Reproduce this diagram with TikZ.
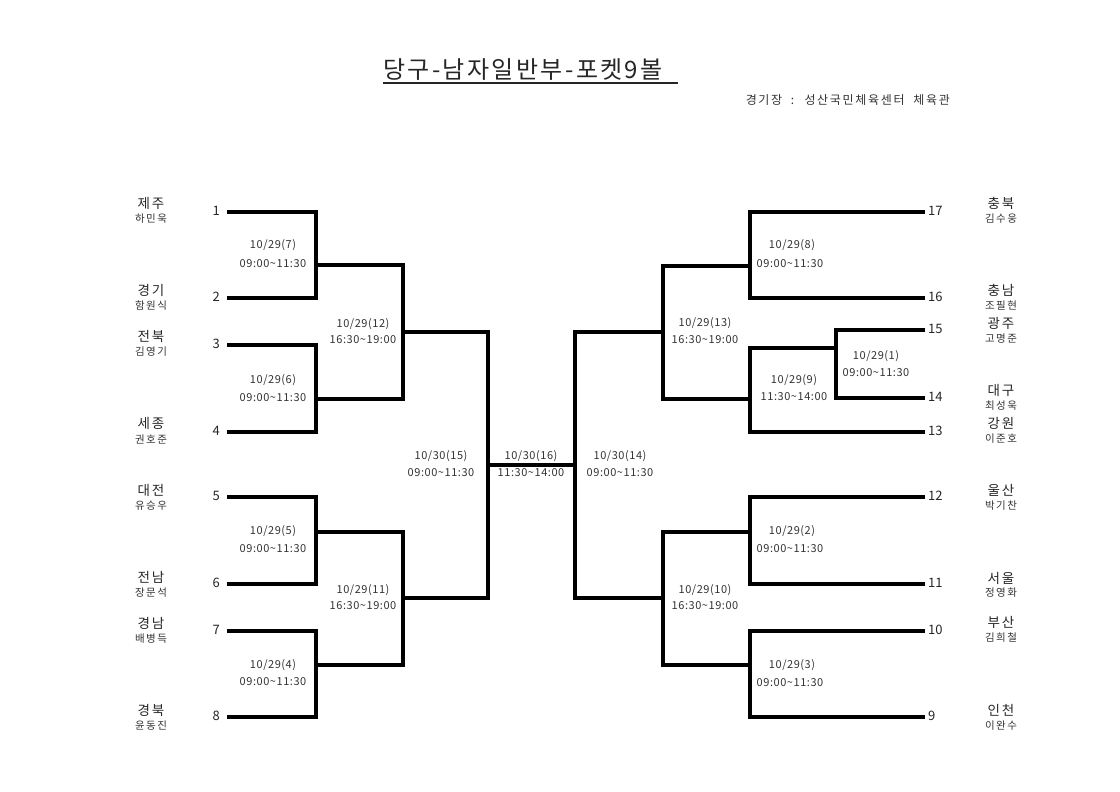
\documentclass[tikz,border=0pt]{standalone}
\usepackage{fontspec}
\setmainfont{Noto Sans CJK KR}
\newfontfamily\spacedfont[LetterSpace=10]{Noto Sans CJK KR}
\newfontfamily\labelfont[LetterSpace=5]{Noto Sans CJK KR}
\newfontfamily\wideskfont[LetterSpace=14]{Noto Sans CJK KR}
\begin{document}
\begin{tikzpicture}[x=1pt,y=-1pt,
  br/.style={line width=4pt, line join=miter, line cap=butt, black},
  num/.style={font=\fontsize{13}{14}\selectfont, text=black!85, inner sep=0pt},
  reg/.style={font=\wideskfont\fontsize{13.5}{14}\selectfont, text=black!85, inner sep=0pt},
  pname/.style={font=\wideskfont\fontsize{10.5}{11}\selectfont, text=black!80, inner sep=0pt},
  mlab/.style={font=\labelfont\fontsize{11}{12}\selectfont, text=black!80, inner sep=0pt}]
\useasboundingbox (0,0) rectangle (1120,792);
\fill[white] (0,0) rectangle (1120,792);
% title
\node[font=\spacedfont\fontsize{24}{25}\selectfont, text=black!85, inner sep=0pt, anchor=west] (title) at (383,70) {당구-남자일반부-포켓9볼};
\draw[line width=1.8pt, black!85] (383,83) -- (678,83);
\node[font=\wideskfont\fontsize{12}{13}\selectfont, text=black!80, inner sep=0pt, anchor=east] (venue) at (950,100) {경기장 \ : \ 성산국민체육센터 \ 체육관};
% left coordinates
\coordinate (s1) at (227,212); \coordinate (s2) at (227,298);
\coordinate (s3) at (227,345); \coordinate (s4) at (227,432);
\coordinate (s5) at (227,497); \coordinate (s6) at (227,584);
\coordinate (s7) at (227,631); \coordinate (s8) at (227,717);
\coordinate (j7) at (316,265); \coordinate (j6) at (316,399);
\coordinate (j5) at (316,532); \coordinate (j4) at (316,665);
\coordinate (j12) at (403,332); \coordinate (j11) at (403,598);
\coordinate (j15) at (488,465); \coordinate (j14) at (575,465);
% right coordinates
\coordinate (e17) at (925,212); \coordinate (e16) at (925,298);
\coordinate (e15) at (925,330); \coordinate (e14) at (925,398);
\coordinate (e13) at (925,432); \coordinate (e12) at (925,497);
\coordinate (e11) at (925,584); \coordinate (e10) at (925,631);
\coordinate (e9) at (925,717);
\coordinate (r8) at (750,266); \coordinate (r1) at (836,348);
\coordinate (r9) at (750,399); \coordinate (r13) at (663,332);
\coordinate (r2) at (750,532); \coordinate (r3) at (750,665);
\coordinate (r10) at (663,598);
% left bracket
\draw[br] (s1) -| (j7) |- (s2);
\draw[br] (s3) -| (j6) |- (s4);
\draw[br] (s5) -| (j5) |- (s6);
\draw[br] (s7) -| (j4) |- (s8);
\draw[br] (j7) -| (j12) |- (j6);
\draw[br] (j5) -| (j11) |- (j4);
\draw[br] (j12) -| (j15) |- (j11);
\draw[br] (j15) -- (j14);
% right bracket
\draw[br] (e17) -| (r8) |- (e16);
\draw[br] (e15) -| (r1) |- (e14);
\draw[br] (r1) -| (r9) |- (e13);
\draw[br] (r8) -| (r13) |- (r9);
\draw[br] (e12) -| (r2) |- (e11);
\draw[br] (e10) -| (r3) |- (e9);
\draw[br] (r2) -| (r10) |- (r3);
\draw[br] (r13) -| (j14) |- (r10);
% left numbers
\node[num, anchor=east] (n1) at (220,211) {1};
\node[num, anchor=east] (n2) at (220,297) {2};
\node[num, anchor=east] (n3) at (220,344) {3};
\node[num, anchor=east] (n4) at (220,431) {4};
\node[num, anchor=east] (n5) at (220,496) {5};
\node[num, anchor=east] (n6) at (220,583) {6};
\node[num, anchor=east] (n7) at (220,630) {7};
\node[num, anchor=east] (n8) at (220,716) {8};
% right numbers
\node[num, anchor=west] (n17) at (928,211) {17};
\node[num, anchor=west] (n16) at (928,297) {16};
\node[num, anchor=west] (n15) at (928,329) {15};
\node[num, anchor=west] (n14) at (928,397) {14};
\node[num, anchor=west] (n13) at (928,431) {13};
\node[num, anchor=west] (n12) at (928,496) {12};
\node[num, anchor=west] (n11) at (928,583) {11};
\node[num, anchor=west] (n10) at (928,630) {10};
\node[num, anchor=west] (n9) at (928,716) {9};
% left teams
\node[reg] (t1) at (151,203) {제주}; \node[pname] (p1) at (151,219) {하민욱};
\node[reg] (t2) at (151,290) {경기}; \node[pname] (p2) at (151,306) {함원식};
\node[reg] (t3) at (151,336) {전북}; \node[pname] (p3) at (151,352) {김영기};
\node[reg] (t4) at (151,423) {세종}; \node[pname] (p4) at (151,439) {권호준};
\node[reg] (t5) at (151,490) {대전}; \node[pname] (p5) at (151,506) {유승우};
\node[reg] (t6) at (151,577) {전남}; \node[pname] (p6) at (151,593) {장문석};
\node[reg] (t7) at (151,623) {경남}; \node[pname] (p7) at (151,639) {배병득};
\node[reg] (t8) at (151,710) {경북}; \node[pname] (p8) at (151,726) {윤동진};
% right teams
\node[reg] (t17) at (1001,203) {충북}; \node[pname] (p17) at (1001,219) {김수웅};
\node[reg] (t16) at (1001,290) {충남}; \node[pname] (p16) at (1001,306) {조필현};
\node[reg] (t15) at (1001,323) {광주}; \node[pname] (p15) at (1001,339) {고명준};
\node[reg] (t14) at (1001,390) {대구}; \node[pname] (p14) at (1001,406) {최성욱};
\node[reg] (t13) at (1001,423) {강원}; \node[pname] (p13) at (1001,439) {이준호};
\node[reg] (t12) at (1001,490) {울산}; \node[pname] (p12) at (1001,506) {박기찬};
\node[reg] (t11) at (1001,578) {서울}; \node[pname] (p11) at (1001,593) {정영화};
\node[reg] (t10) at (1001,622) {부산}; \node[pname] (p10) at (1001,638) {김희철};
\node[reg] (t9) at (1001,710) {인천}; \node[pname] (p9) at (1001,726) {이완수};
% match labels left
\node[mlab] (m7a) at (273,245) {10/29(7)}; \node[mlab] (m7b) at (273,264) {09:00\textasciitilde 11:30};
\node[mlab] (m6a) at (273,380) {10/29(6)}; \node[mlab] (m6b) at (273,398) {09:00\textasciitilde 11:30};
\node[mlab] (m5a) at (273,531) {10/29(5)}; \node[mlab] (m5b) at (273,549) {09:00\textasciitilde 11:30};
\node[mlab] (m4a) at (273,665) {10/29(4)}; \node[mlab] (m4b) at (273,682) {09:00\textasciitilde 11:30};
\node[mlab] (m12a) at (363,324) {10/29(12)}; \node[mlab] (m12b) at (363,340) {16:30\textasciitilde 19:00};
\node[mlab] (m11a) at (363,590) {10/29(11)}; \node[mlab] (m11b) at (363,606) {16:30\textasciitilde 19:00};
\node[mlab] (m15a) at (441,456) {10/30(15)}; \node[mlab] (m15b) at (441,473) {09:00\textasciitilde 11:30};
\node[mlab] (m16a) at (531,456) {10/30(16)}; \node[mlab] (m16b) at (531,473) {11:30\textasciitilde 14:00};
\node[mlab] (m14a) at (620,456) {10/30(14)}; \node[mlab] (m14b) at (620,473) {09:00\textasciitilde 11:30};
% match labels right
\node[mlab] (m8a) at (792,245) {10/29(8)}; \node[mlab] (m8b) at (790,264) {09:00\textasciitilde 11:30};
\node[mlab] (m13a) at (705,323) {10/29(13)}; \node[mlab] (m13b) at (705,340) {16:30\textasciitilde 19:00};
\node[mlab] (m1a) at (876,356) {10/29(1)}; \node[mlab] (m1b) at (876,373) {09:00\textasciitilde 11:30};
\node[mlab] (m9a) at (794,380) {10/29(9)}; \node[mlab] (m9b) at (794,397) {11:30\textasciitilde 14:00};
\node[mlab] (m2a) at (792,531) {10/29(2)}; \node[mlab] (m2b) at (790,549) {09:00\textasciitilde 11:30};
\node[mlab] (m10a) at (705,590) {10/29(10)}; \node[mlab] (m10b) at (705,606) {16:30\textasciitilde 19:00};
\node[mlab] (m3a) at (792,665) {10/29(3)}; \node[mlab] (m3b) at (790,683) {09:00\textasciitilde 11:30};
\end{tikzpicture}
\end{document}
